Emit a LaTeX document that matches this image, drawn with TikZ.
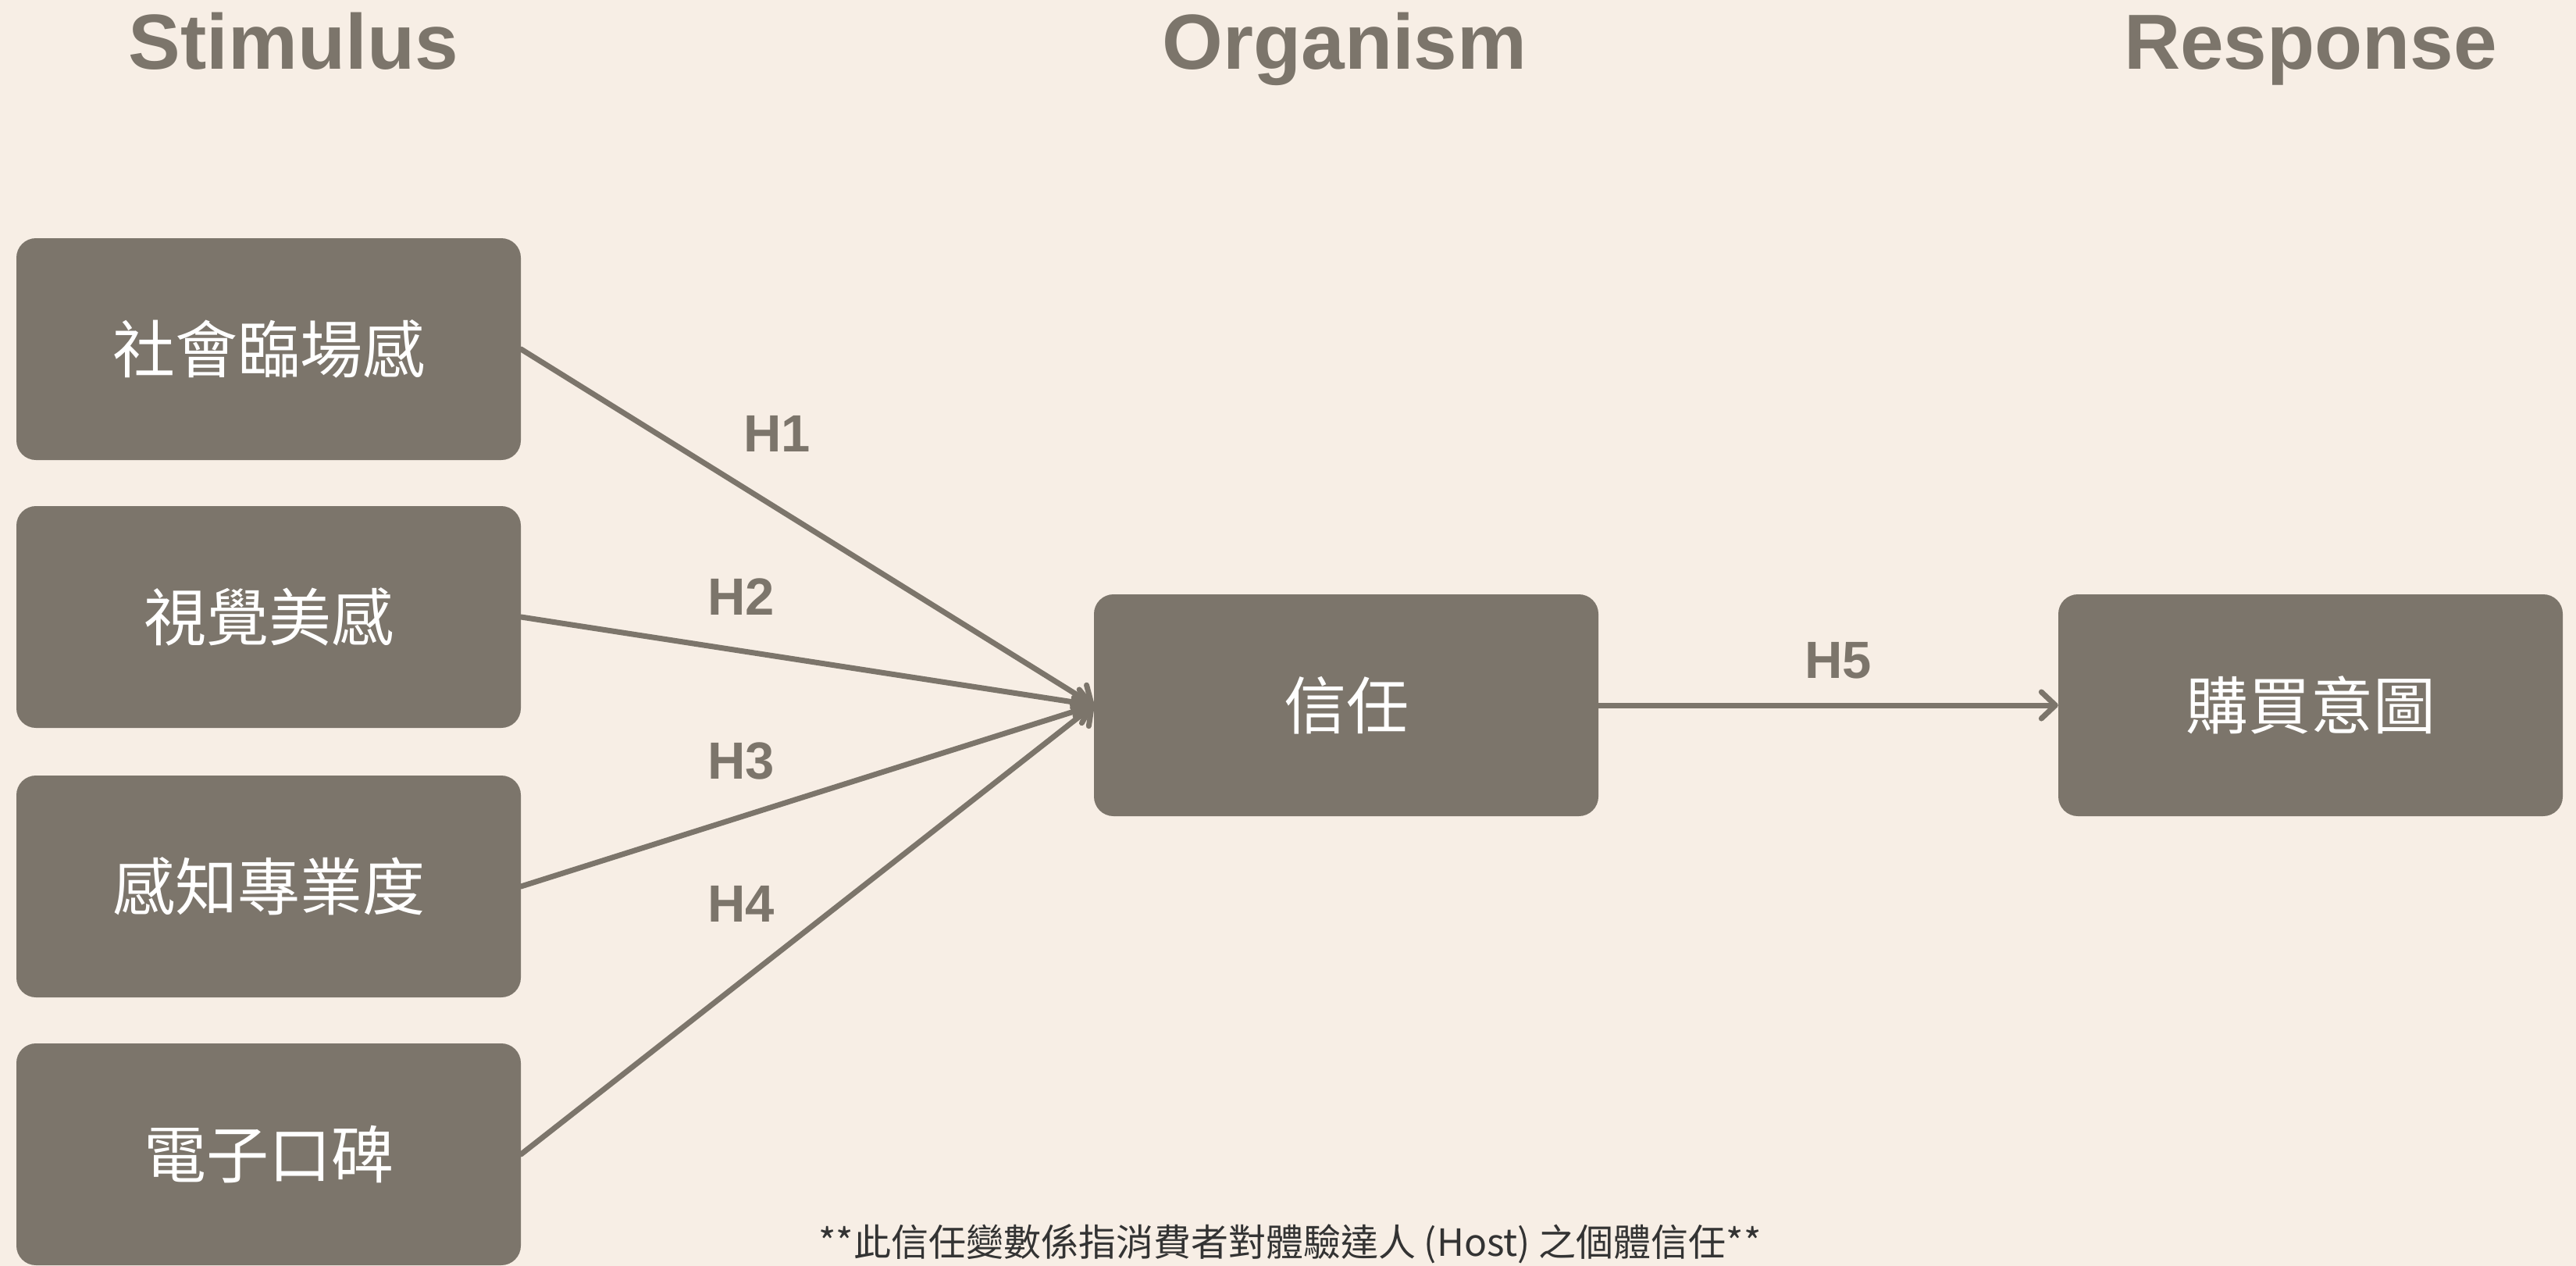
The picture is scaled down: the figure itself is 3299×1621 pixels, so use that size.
\documentclass[tikz,border=0pt]{standalone}
\usepackage{fontspec}
\setmainfont{Liberation Sans}
\newfontfamily\cjk{Noto Sans CJK TC}
\usetikzlibrary{arrows.meta}
\definecolor{bgc}{HTML}{F7EEE5}
\definecolor{boxc}{HTML}{7C756B}
\definecolor{notec}{HTML}{333333}
\tikzset{
  varbox/.style={rectangle, rounded corners=25pt, fill=boxc, draw=none,
    minimum width=646pt, minimum height=284pt, inner sep=0pt,
    text=white, font={\cjk\fontsize{80}{90}\selectfont}},
  heading/.style={text=boxc, font={\bfseries\fontsize{100}{110}\selectfont}, inner sep=0pt, anchor=base},
  hlabel/.style={text=boxc, font={\bfseries\fontsize{67}{75}\selectfont}, inner sep=0pt},
  link/.style={draw=boxc, line width=7pt, line cap=round, line join=round,
    -{Straight Barb[length=18pt,width=34pt,line cap=round,line join=round]}},
}
\begin{document}
\begin{tikzpicture}[x=1pt,y=-1pt]
\fill[bgc] (0,0) rectangle (3299,1621);
\useasboundingbox (0,0) rectangle (3299,1621);

\node[heading] (hS) at (376,89) {Stimulus};
\node[heading] (hO) at (1722,89) {Organism};
\node[heading] (hR) at (2959,89) {Response};

\node[varbox] (s1) at (344,447) {社會臨場感};
\node[varbox] (s2) at (344,790) {視覺美感};
\node[varbox] (s3) at (344,1135) {感知專業度};
\node[varbox] (s4) at (344,1478) {電子口碑};
\node[varbox] (trust) at (1724,903) {信任};
\node[varbox] (buy) at (2959,903) {購買意圖};

\draw[link] (s1.east) -- (trust.west);
\draw[link] (s2.east) -- (trust.west);
\draw[link] (s3.east) -- (trust.west);
\draw[link] (s4.east) -- (trust.west);
\draw[link] (trust.east) -- (buy.west);

\node[hlabel] (h1) at (995,555) {H1};
\node[hlabel] (h2) at (949,764) {H2};
\node[hlabel] (h3) at (949,974) {H3};
\node[hlabel] (h4) at (949,1157) {H4};
\node[hlabel] (h5) at (2354,846) {H5};

\node[text=notec, font={\cjk\fontsize{48}{56}\selectfont}, inner sep=0pt, anchor=base] (note) at (1652,1608) {**此信任變數係指消費者對體驗達人 (Host) 之個體信任**};
\end{tikzpicture}
\end{document}
